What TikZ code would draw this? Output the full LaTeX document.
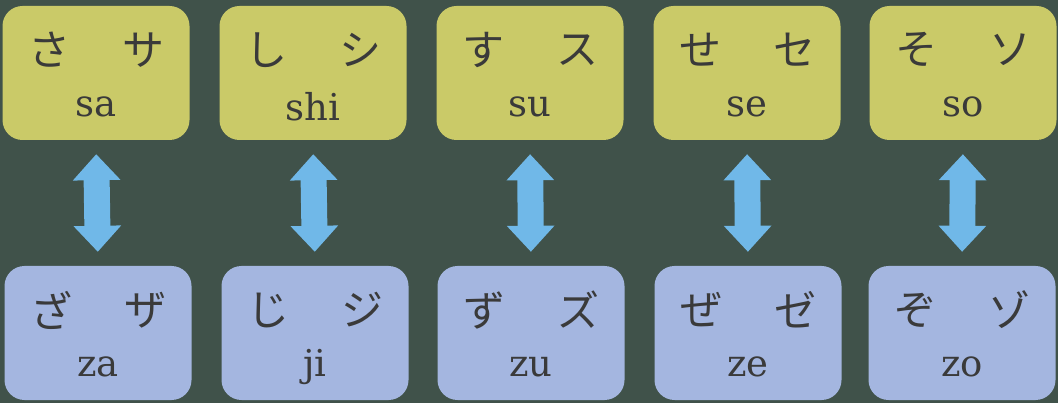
\documentclass[tikz,border=0pt]{standalone}
\usepackage{fontspec}
\usepackage{xcolor}
\usepackage{tikz}
\usetikzlibrary{arrows.meta, positioning}
\newfontfamily\kanafont{Noto Sans CJK JP}
\newfontfamily\romafont{DejaVu Serif}
\definecolor{boardgreen}{RGB}{64, 82, 74}
\definecolor{kanayellow}{RGB}{202, 202, 104}
\definecolor{kanablue}{RGB}{164, 182, 224}
\definecolor{arrowblue}{RGB}{112, 184, 232}
\definecolor{inkgray}{RGB}{58, 58, 58}

\begin{document}
\begin{tikzpicture}[
  x=1pt, y=-1pt,
  card/.style={rectangle, rounded corners=20pt, minimum width=187pt,
               minimum height=134pt, inner sep=0pt},
  kana/.style={font=\kanafont\fontsize{42}{42}\selectfont, text=inkgray, inner sep=0pt},
  roma/.style={font=\romafont\fontsize{37}{37}\selectfont, text=inkgray, inner sep=0pt},
  swap/.style={{Triangle[width=46pt,length=26pt]}-{Triangle[width=46pt,length=26pt]},
               line width=26pt, arrowblue, shorten <=14pt, shorten >=14pt}
]
\fill[boardgreen] (0,0) rectangle (1058,403);
\useasboundingbox (0,0) rectangle (1058,403);

% top row: voiceless
\node[card, fill=kanayellow] (sa) at (96,73) {};
\node[card, fill=kanayellow] (shi) at (313,73) {};
\node[card, fill=kanayellow] (su) at (530,73) {};
\node[card, fill=kanayellow] (se) at (747,73) {};
\node[card, fill=kanayellow] (so) at (963,73) {};

% bottom row: voiced
\node[card, fill=kanablue] (za) at (98,333) {};
\node[card, fill=kanablue] (ji) at (315,333) {};
\node[card, fill=kanablue] (zu) at (531,333) {};
\node[card, fill=kanablue] (ze) at (748,333) {};
\node[card, fill=kanablue] (zo) at (962,333) {};

% kana and romaji
\foreach \c/\h/\k/\r in {sa/さ/サ/sa, shi/し/シ/shi, su/す/ス/su, se/せ/セ/se, so/そ/ソ/so,
                         za/ざ/ザ/za, ji/じ/ジ/ji, zu/ず/ズ/zu, ze/ぜ/ゼ/ze, zo/ぞ/ゾ/zo}{
  \node[kana] (\c-h) at ([xshift=-47pt, yshift=23pt]\c.center) {\h};
  \node[kana] (\c-k) at ([xshift=47pt, yshift=23pt]\c.center) {\k};
  \node[roma] (\c-r) at ([yshift=-34pt]\c.center) {\r};
}

% arrows
\foreach \a/\b in {sa/za, shi/ji, su/zu, se/ze, so/zo}{
  \draw[swap] (\a.south) -- (\b.north);
}
\end{tikzpicture}
\end{document}
